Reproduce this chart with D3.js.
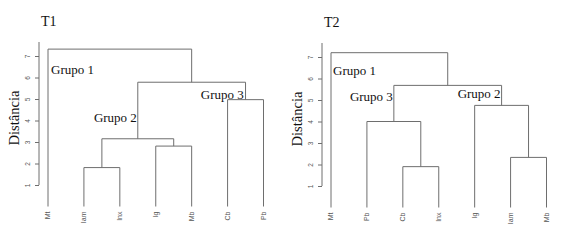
<!DOCTYPE html>
<html>
<head>
<meta charset="utf-8">
<script src="https://cdn.jsdelivr.net/npm/d3@7"></script>
<style>
  html, body { margin: 0; padding: 0; background: #fff; }
  svg { display: block; }
  .serif { font-family: 'Liberation Serif', 'Times New Roman', serif; }
  .sans { font-family: 'Liberation Sans', Arial, sans-serif; }
</style>
</head>
<body>
<svg id="chart" width="566" height="248"></svg>
<script>
// ---- data ----
const panelTitles = ["T1", "T2"];
const leavesT1 = ["Mt", "Iam", "Inx", "Ig", "Mb", "Cb", "Pb"];
const leavesT2 = ["Mt", "Pb", "Cb", "Inx", "Ig", "Iam", "Mb"];
// merges: [left, right, height]; "#i" refers to the i-th earlier merge
const mergesT1 = [
  ["Iam", "Inx", 1.81],
  ["Ig", "Mb", 2.81],
  ["#0", "#1", 3.15],
  ["Cb", "Pb", 4.97],
  ["#2", "#3", 5.78],
  ["Mt", "#4", 7.32]
];
const mergesT2 = [
  ["Cb", "Inx", 1.90],
  ["Iam", "Mb", 2.33],
  ["Pb", "#0", 4.00],
  ["Ig", "#1", 4.75],
  ["#2", "#3", 5.68],
  ["Mt", "#4", 7.20]
];
const groupLabelsT1 = [
  { text: "Grupo 1", leaf: "Mt", h: 6.18 },
  { text: "Grupo 2", leaf: "Iam", h: 3.95 },
  { text: "Grupo 3", leaf: "Ig", h: 5.00 }
];
const groupLabelsT2 = [
  { text: "Grupo 1", leaf: "Mt", h: 6.18 },
  { text: "Grupo 3", leaf: "Pb", h: 4.95 },
  { text: "Grupo 2", leaf: "Ig", h: 5.08 }
];
const groupOffsetsT1 = [3, 10, 45];
const groupOffsetsT2 = [2, -17, -17];
const yTicks = [1, 2, 3, 4, 5, 6, 7];
const yAxisLabel = "Distância";

// ---- drawing ----
const svg = d3.select("#chart");
const lineColor = "#6e6e6e";

function drawPanel(g, title, leaves, merges, groups, groupOffsets) {
  const x = d3.scalePoint().domain(leaves).range([48, 263.5]);
  const y = d3.scaleLinear().domain([0, 7]).range([206.5, 56]);

  // title
  g.append("text").attr("class", "serif").attr("x", 41).attr("y", 26)
    .attr("font-size", 14).attr("fill", "#111").text(title);

  // y axis
  const axis = g.append("g").attr("transform", "translate(39,0)")
    .call(d3.axisLeft(y).tickValues(yTicks).tickSize(4).tickSizeOuter(0).tickFormat(d3.format("d")));
  axis.select(".domain").remove();
  axis.append("line").attr("x1", 0).attr("x2", 0).attr("y1", 42).attr("y2", y(1))
    .attr("stroke", lineColor).attr("stroke-width", 1);
  axis.selectAll(".tick line").attr("stroke", lineColor);
  axis.selectAll(".tick text")
    .attr("class", "sans")
    .attr("font-size", 6.5).attr("fill", "#555")
    .attr("x", null).attr("dy", null)
    .attr("text-anchor", "middle")
    .attr("transform", "translate(-11,0) rotate(-90)")
    .attr("y", 2);

  g.append("text").attr("class", "serif")
    .attr("transform", `translate(19,${118}) rotate(-90)`)
    .attr("text-anchor", "middle")
    .attr("font-size", 14.5).attr("fill", "#111").text(yAxisLabel);

  // compute node positions and draw elbows
  const nodes = {};
  leaves.forEach(l => nodes[l] = { x: x(l), h: 0 });
  merges.forEach((m, i) => {
    const a = nodes[m[0]], b = nodes[m[1]];
    const h = m[2];
    nodes["#" + i] = { x: (a.x + b.x) / 2, h: h };
    const path = d3.path();
    path.moveTo(a.x, y(a.h));
    path.lineTo(a.x, y(h));
    path.lineTo(b.x, y(h));
    path.lineTo(b.x, y(b.h));
    g.append("path").attr("d", path.toString())
      .attr("fill", "none").attr("stroke", lineColor).attr("stroke-width", 1);
  });

  // leaf labels
  g.selectAll(".leaf").data(leaves).join("text")
    .attr("class", "leaf sans")
    .attr("transform", d => `translate(${x(d) + 2.3},${y(0) + 5}) rotate(-90)`)
    .attr("text-anchor", "end")
    .attr("font-size", 7).attr("fill", "#555").text(d => d);

  // group labels
  g.selectAll(".grp").data(groups).join("text")
    .attr("class", "grp serif")
    .attr("x", (d, i) => x(d.leaf) + groupOffsets[i])
    .attr("y", d => y(d.h))
    .attr("font-size", 13).attr("fill", "#111").text(d => d.text);
}

drawPanel(svg.append("g"), panelTitles[0], leavesT1, mergesT1, groupLabelsT1, groupOffsetsT1);
drawPanel(svg.append("g").attr("transform", "translate(283,1)"), panelTitles[1], leavesT2, mergesT2, groupLabelsT2, groupOffsetsT2);
</script>
</body>
</html>
